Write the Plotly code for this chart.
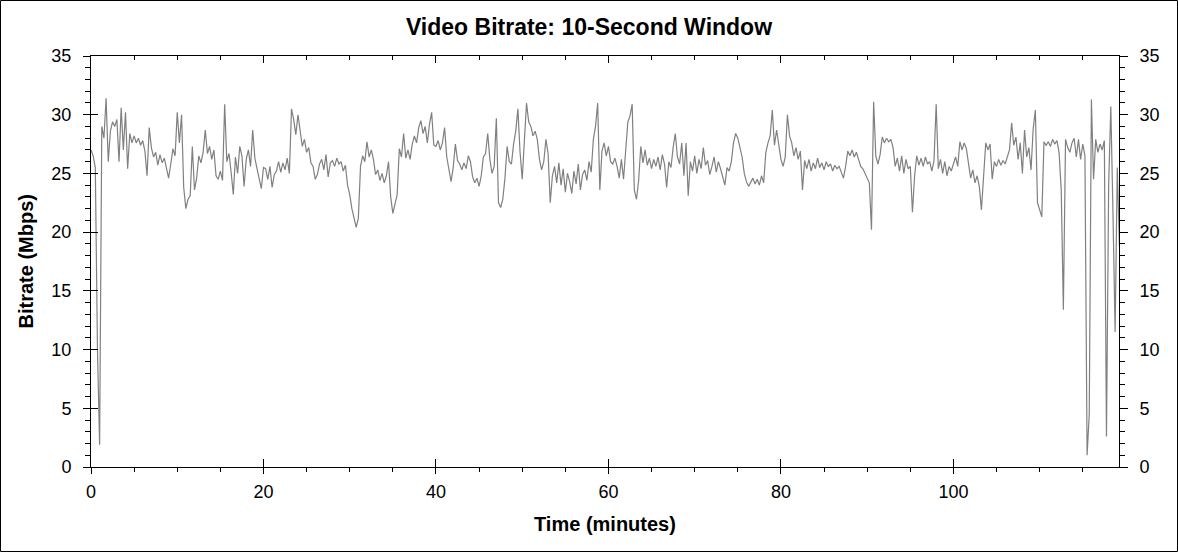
import plotly.graph_objects as go

# bitrate samples (Mbps), one every 0.25 minutes
step_min = 0.25
bitrate = [
    27.0, 26.5, 25.5, 10.0, 1.9, 29.0, 28.0, 31.4, 26.0, 28.6, 29.4, 29.0, 29.6, 26.0, 30.6, 27.0, 30.2, 25.4, 28.4, 27.6,
    28.2, 27.6, 28.0, 27.4, 27.8, 26.9, 24.8, 28.9, 27.2, 26.4, 26.8, 25.7, 26.6, 25.9, 26.3, 25.4, 24.6, 25.8, 27.1, 26.5,
    30.2, 27.6, 30.0, 23.8, 22.0, 22.8, 23.1, 27.3, 23.6, 24.6, 26.5, 25.9, 26.8, 28.7, 26.7, 27.3, 26.2, 27.0, 24.8, 24.5,
    25.2, 24.4, 30.9, 26.0, 26.7, 25.1, 23.2, 26.4, 25.0, 27.3, 26.5, 23.9, 26.2, 27.0, 25.6, 28.7, 26.3, 25.4, 24.6, 23.7,
    25.5, 25.4, 24.5, 25.6, 23.8, 24.9, 25.2, 26.0, 25.1, 25.9, 25.3, 26.3, 25.0, 30.5, 29.6, 28.3, 30.0, 28.6, 27.3, 27.9,
    26.8, 27.2, 25.9, 25.6, 24.5, 24.9, 25.8, 26.2, 25.3, 26.6, 24.7, 25.9, 26.1, 25.6, 26.3, 25.8, 26.0, 25.2, 25.7, 24.0,
    23.2, 22.0, 21.3, 20.4, 21.2, 25.6, 26.5, 26.0, 27.7, 26.4, 27.0, 26.2, 24.9, 25.3, 24.4, 25.0, 24.2, 24.8, 26.0, 23.0,
    21.6, 22.4, 23.2, 27.1, 26.4, 28.4, 26.3, 27.0, 26.2, 27.5, 28.2, 27.6, 28.9, 29.5, 28.4, 29.0, 27.6, 29.2, 30.2, 27.4,
    27.3, 27.8, 27.0, 27.6, 28.9, 26.4, 25.3, 24.3, 25.5, 27.5, 26.1, 25.8, 25.3, 25.9, 25.4, 26.5, 26.0, 24.7, 24.2, 24.6,
    23.9, 24.8, 26.4, 26.7, 28.4, 26.2, 25.0, 25.6, 29.7, 22.5, 22.1, 22.8, 24.6, 27.3, 26.0, 25.8, 27.5, 28.6, 30.5, 26.8,
    24.5, 27.9, 31.0, 29.4, 29.0, 28.2, 28.6, 27.9, 26.2, 25.3, 26.0, 27.9, 26.7, 22.5, 24.8, 25.6, 24.2, 25.9, 24.0, 25.4,
    23.4, 25.0, 24.3, 23.3, 25.2, 24.1, 25.8, 23.6, 24.9, 25.3, 24.4, 26.0, 25.1, 27.9, 29.0, 31.0, 23.6, 26.9, 27.6, 26.5,
    27.3, 26.0, 25.8, 26.3, 25.6, 24.6, 26.2, 24.5, 27.0, 29.4, 29.9, 30.9, 23.6, 22.8, 24.4, 27.3, 25.9, 27.0, 25.7, 26.3,
    25.4, 26.2, 25.6, 26.4, 25.3, 26.6, 25.8, 23.8, 26.0, 25.5, 27.2, 28.4, 26.4, 25.8, 27.6, 24.8, 27.6, 23.1, 26.0, 25.2,
    26.5, 25.0, 26.2, 25.4, 27.2, 25.7, 26.1, 24.9, 25.6, 26.4, 25.1, 26.0, 25.4, 24.6, 24.0, 25.5, 25.2, 26.0, 27.6, 28.4,
    28.0, 27.2, 26.4, 25.0, 24.3, 23.9, 24.2, 24.6, 24.1, 24.5, 24.0, 24.8, 24.2, 26.8, 27.6, 28.2, 30.4, 27.4, 28.7, 27.3,
    26.2, 25.6, 26.4, 30.0, 28.2, 27.6, 26.5, 27.2, 26.2, 26.9, 23.6, 26.1, 25.4, 26.2, 25.2, 25.9, 25.4, 26.3, 25.5, 25.9,
    25.3, 26.0, 25.6, 25.8, 25.2, 25.7, 25.4, 25.6, 25.0, 24.6, 25.6, 26.9, 26.5, 27.0, 26.4, 26.8, 26.2, 25.6, 25.4, 25.0,
    24.6, 24.2, 20.2, 31.1, 26.5, 25.8, 26.6, 28.1, 27.6, 28.0, 27.7, 27.9, 27.2, 25.6, 26.3, 25.2, 26.5, 25.0, 26.2, 25.4,
    25.6, 21.7, 24.8, 26.5, 25.7, 26.3, 25.6, 26.4, 25.8, 26.0, 25.2, 26.1, 30.9, 25.4, 26.2, 25.0, 26.0, 24.8, 25.6, 25.2,
    25.8, 26.4, 25.6, 27.7, 27.0, 27.6, 27.1, 25.6, 24.6, 25.3, 24.2, 24.8, 23.9, 21.9, 24.6, 27.6, 27.0, 27.5, 24.5, 26.0,
    25.6, 26.2, 25.7, 26.1, 25.8, 26.4, 27.0, 29.3, 27.4, 28.1, 26.2, 27.6, 25.0, 28.7, 26.4, 27.2, 25.3, 28.8, 30.4, 22.5,
    21.8, 21.3, 27.7, 27.4, 27.7, 27.3, 27.9, 27.5, 27.8, 26.8, 23.6, 13.4, 27.9, 27.2, 26.8, 27.6, 28.0, 26.4, 27.9, 26.2,
    27.5, 26.5, 1.0, 4.5, 31.3, 24.5, 27.9, 26.8, 27.5, 27.0, 27.8, 2.6, 24.0, 30.7, 21.7, 11.5, 25.5, 18.8,
]
minutes = [i * step_min for i in range(len(bitrate))]

x_range = [0, 119.2]
y_range = [0, 35]

font_family = "Liberation Sans, Arial, sans-serif"
tick_font = dict(family=font_family, size=18, color="black")

fig = go.Figure()

fig.add_trace(go.Scatter(
    x=minutes,
    y=bitrate,
    mode='lines',
    line=dict(color='#808080', width=1.2),
    showlegend=False,
))

# empty traces so the extra tick-only axes get drawn
for xa, ya in [('x2', 'y2'), ('x3', 'y3'), ('x', 'y4')]:
    fig.add_trace(go.Scatter(x=[None], y=[None], xaxis=xa, yaxis=ya,
                             showlegend=False, hoverinfo='skip'))

W, H = 1178, 552
ml, mr, mt, mb = 91, 59, 56, 85
pw, ph = W - ml - mr, H - mt - mb

fig.update_layout(
    width=W,
    height=H,
    margin=dict(l=ml, r=mr, t=mt, b=mb),
    paper_bgcolor='white',
    plot_bgcolor='white',
    title=dict(
        text="<b>Video Bitrate: 10-Second Window</b>",
        x=0.5, xref='container', xanchor='center',
        y=1 - 27 / H, yanchor='middle',
        font=dict(family=font_family, size=23, color='black'),
    ),
    xaxis=dict(
        range=x_range, tick0=0, dtick=20,
        ticks='outside', ticklen=6, tickwidth=1, tickcolor='black',
        minor=dict(dtick=5, ticks='outside', ticklen=4, tickwidth=1, tickcolor='black'),
        showline=True, linecolor='black', linewidth=1,
        showgrid=False, zeroline=False,
        tickfont=tick_font, ticklabelstandoff=2,
    ),
    xaxis2=dict(
        range=x_range, overlaying='x', anchor='y2', side='bottom',
        tick0=0, dtick=20, ticks='inside', ticklen=8, tickwidth=1, tickcolor='black',
        showticklabels=False, showline=False, showgrid=False, zeroline=False,
    ),
    xaxis3=dict(
        range=x_range, overlaying='x', anchor='y3', side='top',
        tick0=0, dtick=20, ticks='inside', ticklen=7, tickwidth=1, tickcolor='black',
        minor=dict(dtick=5, ticks='inside', ticklen=4, tickwidth=1, tickcolor='black'),
        showticklabels=False, showline=True, linecolor='black', linewidth=1,
        showgrid=False, zeroline=False,
    ),
    yaxis=dict(
        range=y_range, tick0=0, dtick=5,
        ticks='outside', ticklen=7, tickwidth=1, tickcolor='black',
        minor=dict(dtick=1, ticks='outside', ticklen=5, tickwidth=1, tickcolor='black'),
        showline=True, linecolor='black', linewidth=1,
        showgrid=False, zeroline=False,
        tickfont=tick_font, ticklabelstandoff=8,
    ),
    yaxis2=dict(
        range=y_range, overlaying='y', anchor='x2', side='left',
        tick0=0, dtick=5, ticks='inside', ticklen=7, tickwidth=1, tickcolor='black',
        showticklabels=False, showline=False, showgrid=False, zeroline=False,
    ),
    yaxis3=dict(
        range=y_range, overlaying='y', anchor='x3', side='left',
        tick0=0, dtick=5, ticks='', showticklabels=False,
        showline=False, showgrid=False, zeroline=False,
    ),
    yaxis4=dict(
        range=y_range, overlaying='y', anchor='x', side='right',
        tick0=0, dtick=5,
        ticks='outside', ticklen=8, tickwidth=1, tickcolor='black',
        minor=dict(dtick=1, ticks='outside', ticklen=5, tickwidth=1, tickcolor='black'),
        showline=True, linecolor='black', linewidth=1,
        showgrid=False, zeroline=False,
        tickfont=tick_font, ticklabelstandoff=8,
    ),
    annotations=[
        dict(text="<b>Time (minutes)</b>", xref='paper', yref='paper',
             x=0.5, y=-(524 - (H - mb)) / ph, xanchor='center', yanchor='middle',
             showarrow=False, font=dict(family=font_family, size=20, color='black')),
        dict(text="<b>Bitrate (Mbps)</b>", xref='paper', yref='paper',
             x=(25 - ml) / pw, y=0.5, xanchor='center', yanchor='middle', textangle=-90,
             showarrow=False, font=dict(family=font_family, size=20, color='black')),
    ],
    shapes=[
        dict(type='rect', xref='paper', yref='paper',
             x0=(0.5 - ml) / pw, x1=(W - 0.5 - ml) / pw,
             y0=-(mb - 0.5) / ph, y1=(H - mb - 0.5) / ph,
             line=dict(color='black', width=1), fillcolor='rgba(0,0,0,0)'),
    ],
)

# drop the page's default body margin so the figure sits at the window corner
fig.write_html("out.html", config={'displayModeBar': False},
               post_script="document.body.style.margin='0';")
